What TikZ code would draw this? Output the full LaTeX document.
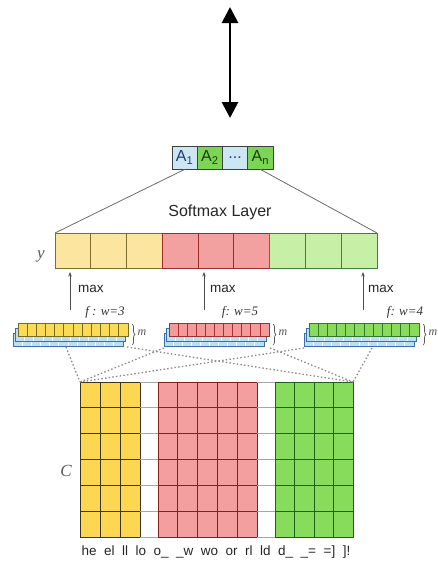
\documentclass[tikz,border=0pt]{standalone}
\usepackage{fontspec}
\setmainfont{Liberation Sans}
\newfontfamily\serifit{Liberation Serif}
\usetikzlibrary{arrows.meta,decorations.pathreplacing}

% palette
\definecolor{yfillC}{HTML}{FDD752}
\definecolor{rfillC}{HTML}{F49F9F}
\definecolor{gfillC}{HTML}{88DC5B}
\definecolor{ylineC}{HTML}{3A3520}
\definecolor{rlineC}{HTML}{861E1E}
\definecolor{glineC}{HTML}{1F5F1F}
\definecolor{yfillY}{HTML}{FCE59E}
\definecolor{rfillY}{HTML}{F2A0A0}
\definecolor{gfillY}{HTML}{C7EFA6}
\definecolor{ylineY}{HTML}{7E6E2E}
\definecolor{rlineY}{HTML}{9A2C2C}
\definecolor{glineY}{HTML}{3F7F3F}
\definecolor{yfillF}{HTML}{F9DB55}
\definecolor{rfillF}{HTML}{F39B9B}
\definecolor{gfillF}{HTML}{8ADB5C}
\definecolor{ylineF}{HTML}{7A6A1E}
\definecolor{rlineF}{HTML}{A33030}
\definecolor{glineF}{HTML}{2F7A2F}
\definecolor{ablue}{HTML}{CDE6F4}
\definecolor{agreen}{HTML}{7DD653}
\definecolor{navy}{HTML}{1E3F74}
\definecolor{dkgreen}{HTML}{1D3B12}
\definecolor{stackblue}{HTML}{BCDFF2}
\definecolor{stackline}{HTML}{3C6FA8}
\definecolor{labelgray}{HTML}{585858}

% one filter: coloured top row with two blue feature-map layers behind it
\newcommand{\filterstack}[5]{% #1 left, #2 right, #3 cells, #4 fill, #5 line
  \pgfmathtruncatemacro\nm{#3-1}%
  \foreach \o in {2,1}{%
    \pgfmathsetmacro\fl{#1-2.5*\o}%
    \pgfmathsetmacro\fr{#2-2.5*\o}%
    \pgfmathsetmacro\ft{323.5+5*\o}%
    \fill[stackblue] (\fl,\ft) rectangle (\fr,\ft+13);
    \foreach \k in {1,...,\nm}{%
      \draw[white, line width=0.9pt] ({\fl+(\fr-\fl)*\k/#3},\ft) -- ++(0,13);}
    \draw[stackline, line width=0.6pt] (\fl,\ft) rectangle (\fr,\ft+13);
  }%
  \fill[#4] (#1,323.5) rectangle (#2,336.5);
  \foreach \k in {1,...,\nm}{%
    \draw[#5, line width=0.7pt] ({#1+(#2-#1)*\k/#3},323.5) -- ++(0,13);}
  \draw[#5, line width=0.8pt] (#1,323.5) rectangle (#2,336.5);
  \draw[decorate, decoration={brace, amplitude=3pt}, labelgray, line width=0.7pt]
    (#2+4,324) -- (#2+4,345);
  \node[mlabel] at (#2+14,333) {m};
}

% one coloured block of the character matrix
\newcommand{\cblock}[5]{% #1 left, #2 right, #3 columns, #4 fill, #5 line
  \fill[#4] (#1,382) rectangle (#2,537.5);
  \foreach \k in {0,...,6}{%
    \draw[#5, line width=0.9pt] (#1,382+25.917*\k) -- (#2,382+25.917*\k);}
  \foreach \k in {0,...,#3}{%
    \draw[#5, line width=0.9pt] ({#1+(#2-#1)*\k/#3},382) -- ({#1+(#2-#1)*\k/#3},537.5);}
}

% blank separator column of the character matrix
\newcommand{\cgap}[2]{%
  \foreach \k in {0,...,6}{%
    \draw[gray!70, line width=0.9pt] (#1,382+25.917*\k) -- (#2,382+25.917*\k);}
}

% one block of the output vector y
\newcommand{\yblock}[4]{% #1 left, #2 cells, #3 fill, #4 line
  \foreach \k in {1,...,#2}{%
    \draw[#4, fill=#3, line width=1pt] ({#1+35.78*(\k-1)},233) rectangle ++(35.78,35);}
}

\begin{document}
\begin{tikzpicture}[x=1pt, y=-1pt,
  acell/.style={draw=black!75, line width=0.8pt, minimum width=25.25pt,
    minimum height=23pt, inner sep=0pt, font=\fontsize{16}{16}\selectfont},
  softline/.style={draw=gray!85!black, line width=0.8pt},
  maxarrow/.style={draw=black!70, line width=0.9pt, -{Stealth[length=4.5pt,width=3.5pt]}},
  maxlabel/.style={anchor=west, inner sep=0pt, font=\fontsize{13.5}{13.5}\selectfont, text=black!85},
  flabel/.style={inner sep=0pt, font=\serifit\itshape\fontsize{13}{13}\selectfont, text=black!80},
  mlabel/.style={inner sep=0pt, font=\serifit\itshape\fontsize{12}{12}\selectfont, text=labelgray},
  axislabel/.style={inner sep=0pt, font=\serifit\itshape\fontsize{17}{17}\selectfont, text=labelgray},
  fanline/.style={draw=gray!90, line width=1.3pt, dash pattern=on 1.5pt off 2.2pt}
]
\useasboundingbox (0,0) rectangle (437,562);

% ---- double-headed arrow
\coordinate (arrtop) at (230,7);
\coordinate (arrbot) at (230,118);
\draw[line width=2.8pt, {Triangle[width=16pt,length=16pt]}-{Triangle[width=16pt,length=16pt]}]
  (arrtop) -- (arrbot);

% ---- class outputs
\node[acell, fill=ablue, text=navy]      (a1) at (184.6,157.5) {A\textsubscript{1}};
\node[acell, fill=agreen, text=dkgreen]  (a2) at (209.9,157.5) {A\textsubscript{2}};
\node[acell, fill=ablue, text=navy]      (a3) at (235.1,157.5) {...};
\node[acell, fill=agreen, text=dkgreen]  (a4) at (260.4,157.5) {A\textsubscript{n}};

\node[font=\fontsize{16}{16}\selectfont, text=black!85] (softmax) at (220,212) {Softmax Layer};

% ---- output vector y
\yblock{55}{3}{yfillY}{ylineY}
\yblock{162.34}{3}{rfillY}{rlineY}
\yblock{269.68}{3}{gfillY}{glineY}
\coordinate (ytl) at (55,233);
\coordinate (ytr) at (377,233);
\node[axislabel] (ylab) at (41,256) {y};

\draw[softline] (a1.south) -- (ytl);
\draw[softline] (a4.south) -- (ytr);

% ---- max pooling arrows
\coordinate (mx1b) at (70,310);  \coordinate (mx1t) at (70,272);
\coordinate (mx2b) at (204,310); \coordinate (mx2t) at (204,272);
\coordinate (mx3b) at (363,310); \coordinate (mx3t) at (363,272);
\draw[maxarrow] (mx1b) -- (mx1t);
\draw[maxarrow] (mx2b) -- (mx2t);
\draw[maxarrow] (mx3b) -- (mx3t);
\node[maxlabel] (max1) at (78,289) {max};
\node[maxlabel] (max2) at (210,289) {max};
\node[maxlabel] (max3) at (368,289) {max};
\node[flabel] (f1) at (105,312) {f : w=3};
\node[flabel] (f2) at (240,312) {f: w=5};
\node[flabel] (f3) at (405,312) {f: w=4};

% ---- filters
\filterstack{18}{128}{12}{yfillF}{ylineF}
\filterstack{169}{269}{11}{rfillF}{rlineF}
\filterstack{309}{419}{12}{gfillF}{glineF}

% ---- character matrix C
\cblock{80}{140}{3}{yfillC}{ylineC}
\cgap{140}{158}
\cblock{158}{257}{5}{rfillC}{rlineC}
\cgap{257}{275}
\cblock{275}{353}{4}{gfillC}{glineC}
\coordinate (ctl) at (80,382);
\coordinate (ctr) at (353,382);
\node[axislabel] (clab) at (66,471) {C};

% ---- receptive fields of the filters
\coordinate (f1l) at (66,347);  \coordinate (f1r) at (127,347);
\coordinate (f2l) at (164,348); \coordinate (f2r) at (270,348);
\coordinate (f3l) at (304,348); \coordinate (f3r) at (372,348);
\draw[fanline] (f1l) -- (ctl);
\draw[fanline] (f1r) -- (ctr);
\draw[fanline] (f2l) -- (ctl);
\draw[fanline] (f2r) -- (ctr);
\draw[fanline] (f3l) -- (ctl);
\draw[fanline] (f3r) -- (ctr);

% ---- character bigrams
\node[font={\fontsize{13.5}{14}\selectfont\spaceskip=7.5pt\relax}, text=black!85, inner sep=0pt]
  (bigrams) at (216,552) {he el ll lo o\_ \_w wo or rl ld d\_ \_= =] ]!};
\end{tikzpicture}
\end{document}
